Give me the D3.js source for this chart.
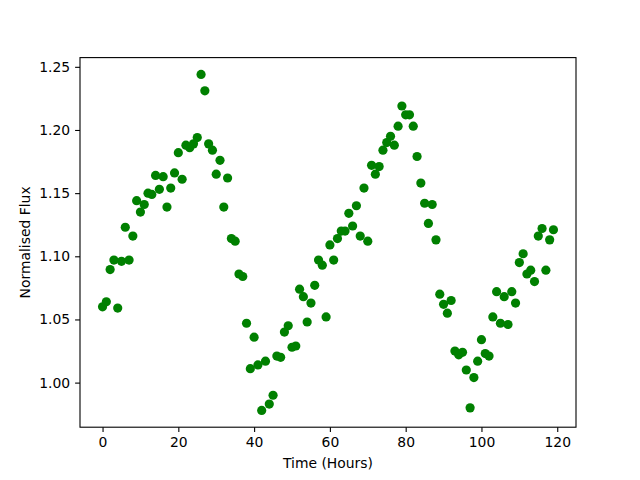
<!DOCTYPE html>
<html><head><meta charset="utf-8">
<script src="https://cdn.jsdelivr.net/npm/d3@7"></script>
<style>body{margin:0;background:#fff}svg{display:block}text{font-family:"DejaVu Sans",sans-serif}</style>
</head><body>
<script>
const hours = d3.range(0, 120);
const flux = [
1.060,1.064,1.0895,1.097,1.059,1.096,1.123,1.097,1.116,1.144,
1.135,1.141,1.150,1.149,1.164,1.153,1.163,1.139,1.154,1.166,
1.182,1.161,1.188,1.186,1.189,1.194,1.244,1.231,1.189,1.184,
1.165,1.176,1.139,1.162,1.114,1.112,1.086,1.084,1.047,1.011,
1.036,1.014,0.978,1.017,0.983,0.990,1.021,1.020,1.040,1.045,
1.028,1.029,1.074,1.068,1.048,1.063,1.077,1.097,1.093,1.052,
1.109,1.097,1.114,1.120,1.120,1.134,1.124,1.140,1.116,1.154,
1.112,1.172,1.165,1.171,1.184,1.190,1.195,1.188,1.203,1.219,
1.212,1.212,1.203,1.179,1.158,1.142,1.126,1.141,1.113,1.070,
1.062,1.055,1.065,1.025,1.022,1.024,1.010,0.980,1.004,1.017,
1.034,1.023,1.021,1.052,1.072,1.047,1.068,1.046,1.072,1.063,
1.095,1.102,1.086,1.089,1.080,1.116,1.122,1.089,1.113,1.121];
const xTicks = [0,20,40,60,80,100,120];
const yTicks = [1.00,1.05,1.10,1.15,1.20,1.25];

const W=640,H=480, L=80,R=576,T=57.6,B=427.2;
const svg=d3.select("body").append("svg").attr("width",W).attr("height",H);
const xmin=d3.min(hours), xmax=d3.max(hours), xm=(xmax-xmin)*0.05;
const ymin=d3.min(flux), ymax=d3.max(flux), ym=(ymax-ymin)*0.05;
const x=d3.scaleLinear().domain([xmin-xm,xmax+xm]).range([L,R]);
const y=d3.scaleLinear().domain([ymin-ym,ymax+ym]).range([B,T]);

svg.append("g").selectAll("circle").data(hours).join("circle")
  .attr("cx",(d)=>x(d)).attr("cy",(d,i)=>y(flux[i])).attr("r",4.6)
  .attr("fill","#008000");

const xa=svg.append("g").attr("transform",`translate(0,${B})`)
  .call(d3.axisBottom(x).tickValues(xTicks).tickFormat(d3.format("d")).tickSize(4.9).tickPadding(4.9));
const ya=svg.append("g").attr("transform",`translate(${L},0)`)
  .call(d3.axisLeft(y).tickValues(yTicks).tickFormat(d3.format(".2f")).tickSize(4.9).tickPadding(4.9));
[xa,ya].forEach(a=>{a.select(".domain").remove();a.selectAll("text").attr("font-size",13.9).attr("fill","#000").attr("font-family","DejaVu Sans");a.selectAll("line").attr("stroke","#000").attr("stroke-width",1.1);});

svg.append("rect").attr("x",L).attr("y",T).attr("width",R-L).attr("height",B-T)
  .attr("fill","none").attr("stroke","#000").attr("stroke-width",1.1);

svg.append("text").attr("x",(L+R)/2).attr("y",468).attr("text-anchor","middle")
  .attr("font-size",13.9).text("Time (Hours)");
svg.append("text").attr("transform",`translate(30,${(T+B)/2}) rotate(-90)`).attr("text-anchor","middle")
  .attr("font-size",13.9).text("Normalised Flux");
</script>
</body></html>
